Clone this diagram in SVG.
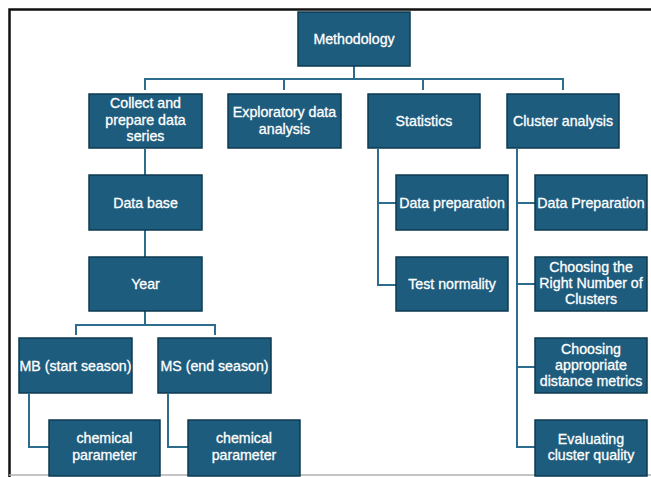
<svg xmlns="http://www.w3.org/2000/svg" width="651" height="477" viewBox="0 0 651 477">
<style>
.box{fill:#1e5c7d;stroke:#0e3a50;stroke-width:1.5}
.t{font-family:"Liberation Sans",Arial,sans-serif;font-size:14.2px;fill:#ffffff;stroke:#ffffff;stroke-width:0.3;text-anchor:middle}
.c{fill:none;stroke:#2d6c8c;stroke-width:2}
</style>
<rect x="0" y="0" width="651" height="477" fill="#ffffff"/>
<g id="frame">
<path d="M9.5,477 V9.5 H651" fill="none" stroke="#111" stroke-width="2.5"/>
<line x1="9" y1="475" x2="651" y2="475" stroke="#b0b0b0" stroke-width="1.5"/>
</g>
<g id="connectors">
<path class="c" d="M354,66 V79 M145,90 V79 H563 V90 M284,79 V90 M423,79 V90"/>
<path class="c" d="M145,149 V175 M145,230 V257 M145,311 V325 M76,335 V325 H215 V335"/>
<path class="c" d="M29,394 V447 H49 M168,394 V447 H188"/>
<path class="c" d="M378,149 V285 H396 M378,203 H396"/>
<path class="c" d="M517,149 V447 H535 M517,203 H535 M517,284 H535 M517,367 H535"/>
</g>
<g id="n-methodology"><rect class="box" x="298" y="12" width="112" height="54"/><text class="t" x="354" y="44">Methodology</text></g>
<g id="n-collect"><rect class="box" x="89" y="94" width="113" height="54"/><text class="t" x="145.5" y="108">Collect and</text><text class="t" x="145.5" y="124.5">prepare data</text><text class="t" x="145.5" y="141">series</text></g>
<g id="n-exploratory"><rect class="box" x="228" y="94" width="113" height="54"/><text class="t" x="284.5" y="117">Exploratory data</text><text class="t" x="284.5" y="133.5">analysis</text></g>
<g id="n-statistics"><rect class="box" x="368" y="94" width="112" height="54"/><text class="t" x="424" y="126">Statistics</text></g>
<g id="n-cluster"><rect class="box" x="507" y="94" width="112" height="54"/><text class="t" x="563" y="126">Cluster analysis</text></g>
<g id="n-database"><rect class="box" x="89" y="175" width="113" height="55"/><text class="t" x="145.5" y="207.5">Data base</text></g>
<g id="n-year"><rect class="box" x="89" y="257" width="113" height="54"/><text class="t" x="145.5" y="289">Year</text></g>
<g id="n-mb"><rect class="box" x="19" y="338" width="113" height="55"/><text class="t" x="75.5" y="370.5">MB (start season)</text></g>
<g id="n-ms"><rect class="box" x="158" y="338" width="113" height="55"/><text class="t" x="214.5" y="370.5">MS (end season)</text></g>
<g id="n-chem1"><rect class="box" x="49" y="420" width="111" height="56"/><text class="t" x="104.5" y="443">chemical</text><text class="t" x="104.5" y="460">parameter</text></g>
<g id="n-chem2"><rect class="box" x="188" y="420" width="112" height="56"/><text class="t" x="244" y="443">chemical</text><text class="t" x="244" y="460">parameter</text></g>
<g id="n-dataprep"><rect class="box" x="396" y="175" width="112" height="55"/><text class="t" x="452" y="207.5">Data preparation</text></g>
<g id="n-normality"><rect class="box" x="396" y="257" width="112" height="54"/><text class="t" x="452" y="289">Test normality</text></g>
<g id="n-dataprep2"><rect class="box" x="535" y="175" width="112" height="55"/><text class="t" x="591" y="207.5">Data Preparation</text></g>
<g id="n-number"><rect class="box" x="535" y="257" width="112" height="54"/><text class="t" x="591" y="272">Choosing the</text><text class="t" x="591" y="288">Right Number of</text><text class="t" x="591" y="304">Clusters</text></g>
<g id="n-distance"><rect class="box" x="535" y="338" width="112" height="55"/><text class="t" x="591" y="354">Choosing</text><text class="t" x="591" y="370">appropriate</text><text class="t" x="591" y="386">distance metrics</text></g>
<g id="n-quality"><rect class="box" x="535" y="420" width="112" height="56"/><text class="t" x="591" y="444">Evaluating</text><text class="t" x="591" y="460">cluster quality</text></g>
</svg>
